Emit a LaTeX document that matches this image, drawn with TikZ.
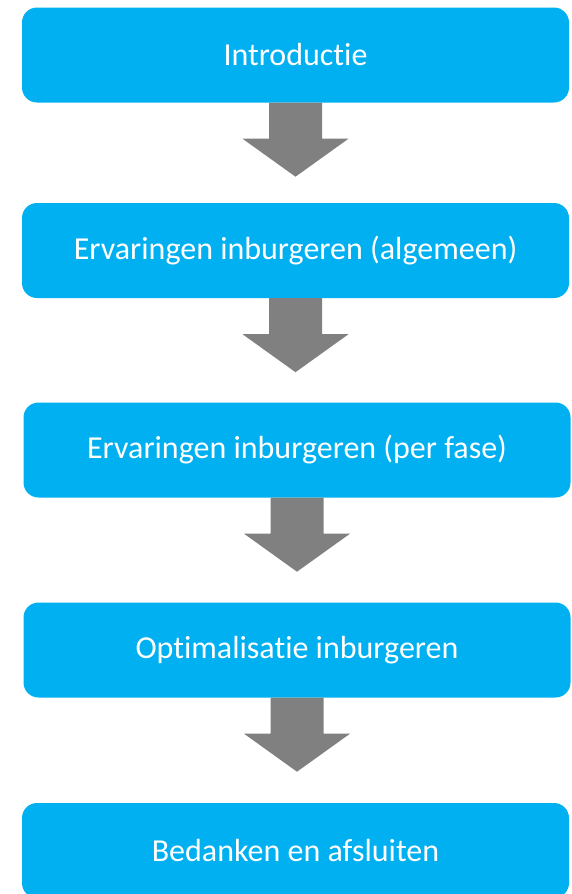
\documentclass[tikz,border=0pt]{standalone}
\usepackage{fontspec}
\setmainfont{Carlito}[Ligatures={NoCommon,NoContextual}]
\usetikzlibrary{calc}
\definecolor{blauw}{HTML}{00B0F0}
\definecolor{grijs}{HTML}{808080}
\tikzset{
  stap/.style={fill=blauw, rounded corners=15pt, minimum width=547pt, minimum height=95pt,
    text=white, font=\fontsize{32}{38}\selectfont, inner sep=0pt},
  pijl/.style={fill=grijs}
}
\begin{document}
\begin{tikzpicture}[x=1pt, y=-1pt]
  \useasboundingbox (0,0) rectangle (572,894);
  \clip (0,0) rectangle (572,894);
  \node [stap] (intro) at (295.5,55) {Introductie};
  \node [stap] (alg) at (295.5,250.5) {Ervaringen inburgeren (algemeen)};
  \node [stap] (fase) at (297,450) {Ervaringen inburgeren (per fase)};
  \node [stap] (opt) at (297,650) {Optimalisatie inburgeren};
  \node [stap] (bedank) at (295.5,850.5) {Bedanken en afsluiten};
  \foreach \a in {intro, alg, fase, opt} {
    \fill [pijl] ([xshift=-26.5pt]\a.south) -- ++(0,36) -- ++(-26.5,0)
      -- ([yshift=-74pt]\a.south) -- ++(53,-38) -- ++(-26.5,0)
      -- ([xshift=26.5pt]\a.south) -- cycle;
  }
\end{tikzpicture}
\end{document}
